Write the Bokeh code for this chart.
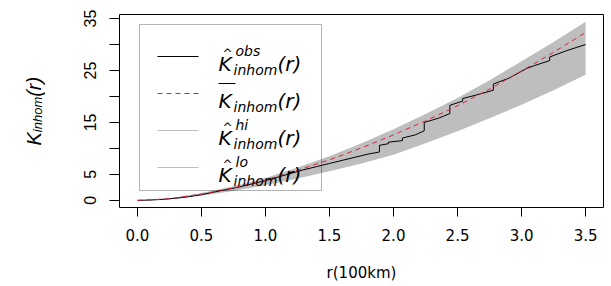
import math
from bokeh.plotting import figure
from bokeh.layouts import row
from bokeh.models import FixedTicker, Label, BoxAnnotation, Arrow, Range1d
from bokeh.core.properties import value
from bokeh.embed import file_html
from bokeh.resources import INLINE

# ---- data ----
r_env = [0.0, 0.25, 0.5, 0.75, 1.0, 1.25, 1.5, 1.75, 2.0, 2.25, 2.5, 2.75, 3.0, 3.25, 3.5]
theo = [0.0, 0.3, 1.2, 2.4, 3.9, 5.8, 7.8, 10.1, 12.6, 15.3, 18.2, 21.4, 24.9, 28.5, 32.3]
hi = [0.0, 0.4, 1.4, 2.7, 4.3, 6.3, 8.5, 11.0, 13.7, 16.6, 19.7, 23.1, 26.8, 30.5, 34.4]
lo = [0.0, 0.2, 0.9, 1.8, 2.9, 4.2, 5.6, 7.1, 8.8, 11.0, 13.3, 15.8, 18.4, 21.2, 24.2]

obs_r = [0.00, 0.10, 0.20, 0.30, 0.40, 0.50, 0.60, 0.70, 0.80, 0.90, 1.00, 1.10, 1.20,
         1.30, 1.40, 1.50, 1.60, 1.70, 1.80, 1.89, 1.89, 1.96, 1.96, 2.07, 2.07, 2.17,
         2.24, 2.24, 2.35, 2.44, 2.44, 2.54, 2.54, 2.65, 2.78, 2.78, 2.90, 3.04, 3.12,
         3.22, 3.22, 3.35, 3.50]
obs_k = [0.00, 0.05, 0.20, 0.40, 0.70, 1.10, 1.60, 2.10, 2.60, 3.20, 3.80, 4.50, 5.20,
         5.90, 6.50, 7.10, 7.70, 8.30, 8.90, 9.30, 10.60, 10.90, 11.20, 11.50, 12.00, 12.60,
         13.40, 15.00, 15.80, 16.70, 18.30, 19.10, 19.60, 20.30, 21.20, 22.40, 23.50, 25.40, 26.10,
         26.90, 27.60, 28.80, 30.00]

x_ticks = [0.0, 0.5, 1.0, 1.5, 2.0, 2.5, 3.0, 3.5]
x_tick_labels = ["0.0", "0.5", "1.0", "1.5", "2.0", "2.5", "3.0", "3.5"]
y_ticks = [0, 5, 10, 15, 20, 25, 30, 35]
y_tick_labels = ["0", "5", "", "15", "", "25", "", "35"]
legend_sups = ["obs", None, "hi", "lo"]
x_label = "r(100km)"
y_label_parts = ["K", "inhom", "(r)"]

RED = "#D7263D"
GREY = "#BEBEBE"
HFONT = "DejaVu Sans"
VFONT = "Liberation Sans"
SHIFT = 0.35  # empirical baseline compensation (fraction of font size)

TOP, BOTTOM, H = 14, 79, 286


def lab(fig, x, y, text, size, font, style="italic", align="left"):
    fig.add_layout(Label(x=x, y=y + SHIFT * size, x_units="screen", y_units="screen", text=text,
                         text_font=font, text_font_size=f"{size}px", text_font_style=style,
                         text_color="black", text_align=align, text_baseline="alphabetic"))


# ---- main plot ----
p = figure(width=566, height=H, output_backend="svg", toolbar_location=None,
           x_range=Range1d(-0.14, 3.64), y_range=Range1d(-1.376, 35.776),
           min_border_left=74, min_border_right=8, min_border_top=TOP, min_border_bottom=BOTTOM)
p.background_fill_color = "white"
p.border_fill_color = "white"
p.grid.visible = False
p.outline_line_color = "black"
p.outline_line_width = 1

p.varea(x=r_env, y1=lo, y2=hi, fill_color=GREY)
p.line(obs_r, obs_k, line_color="black", line_width=1)
p.line(r_env, theo, line_color=RED, line_width=1, line_dash="5 4")

xa = p.xaxis[0]
xa.ticker = FixedTicker(ticks=x_ticks)
xa.major_label_overrides = dict(zip(x_ticks, x_tick_labels))
xa.axis_line_color = None
xa.minor_tick_line_color = None
xa.major_tick_out = 9
xa.major_tick_in = 0
xa.major_tick_line_color = "black"
xa.major_label_standoff = 12
xa.major_label_text_font = HFONT
xa.major_label_text_font_size = "15px"
xa.major_label_text_color = "black"
xa.axis_label = x_label
xa.axis_label_text_font = HFONT
xa.axis_label_text_font_size = "15px"
xa.axis_label_text_font_style = "normal"
xa.axis_label_text_color = "black"
xa.axis_label_standoff = 20

ya = p.yaxis[0]
ya.ticker = FixedTicker(ticks=y_ticks)
ya.major_label_overrides = dict(zip(y_ticks, y_tick_labels))
ya.axis_line_color = None
ya.minor_tick_line_color = None
ya.major_tick_out = 10
ya.major_tick_in = 0
ya.major_tick_line_color = "black"
ya.major_label_orientation = "vertical"
ya.major_label_standoff = 13
ya.major_label_text_font = VFONT
ya.major_label_text_font_size = "16px"
ya.major_label_text_color = "black"

# legend (frame-relative screen coordinates)
p.add_layout(BoxAnnotation(left=20, right=202, bottom=17, top=183,
                           left_units="screen", right_units="screen",
                           top_units="screen", bottom_units="screen",
                           fill_alpha=0, line_color="black", line_width=1))
styles = [("black", "solid"), (RED, "5 4"), (GREY, "solid"), (GREY, "solid")]
for i, (col, dash) in enumerate(styles):
    ly = 151 - 37 * i
    p.add_layout(Arrow(end=None, x_start=38, y_start=ly, x_end=79, y_end=ly,
                       start_units="screen", end_units="screen",
                       line_color=col, line_width=1, line_dash=dash))
    by = 137 - 37 * i
    lab(p, 99, by, "K", 20, HFONT)
    lab(p, 114, by - 4, "inhom", 14, HFONT)
    lab(p, 158, by, "(r)", 20, HFONT)
    sup = legend_sups[i]
    if sup:
        lab(p, 116, by + 15, sup, 14, HFONT)
        lab(p, 103, by + 12, "^", 12, HFONT, style="normal")
    else:
        p.add_layout(Arrow(end=None, x_start=99, y_start=by + 24, x_end=116, y_end=by + 24,
                           start_units="screen", end_units="screen",
                           line_color="black", line_width=1))

# ---- y-axis label strip (pixel-unit ranges, frame aligned with main frame) ----
ys = figure(width=45, height=H, output_backend="svg", toolbar_location=None,
            x_axis_type=None, y_axis_type=None,
            min_border_left=0, min_border_right=0, min_border_top=TOP, min_border_bottom=BOTTOM,
            x_range=Range1d(0, 45), y_range=Range1d(0, H - TOP - BOTTOM))
ys.outline_line_color = None
ys.grid.visible = False
ys.background_fill_color = "white"
ys.border_fill_color = "white"
ys.text(x=[33, 37, 33], y=[62, 75.3, 110.7], text=y_label_parts, angle=math.pi / 2,
        text_font=value(VFONT), text_font_style="italic",
        text_font_size=["20px", "13px", "20px"], text_color="black",
        text_align="left", text_baseline="alphabetic")

layout = row(ys, p)
open("out.html", "w").write(file_html(layout, INLINE))
